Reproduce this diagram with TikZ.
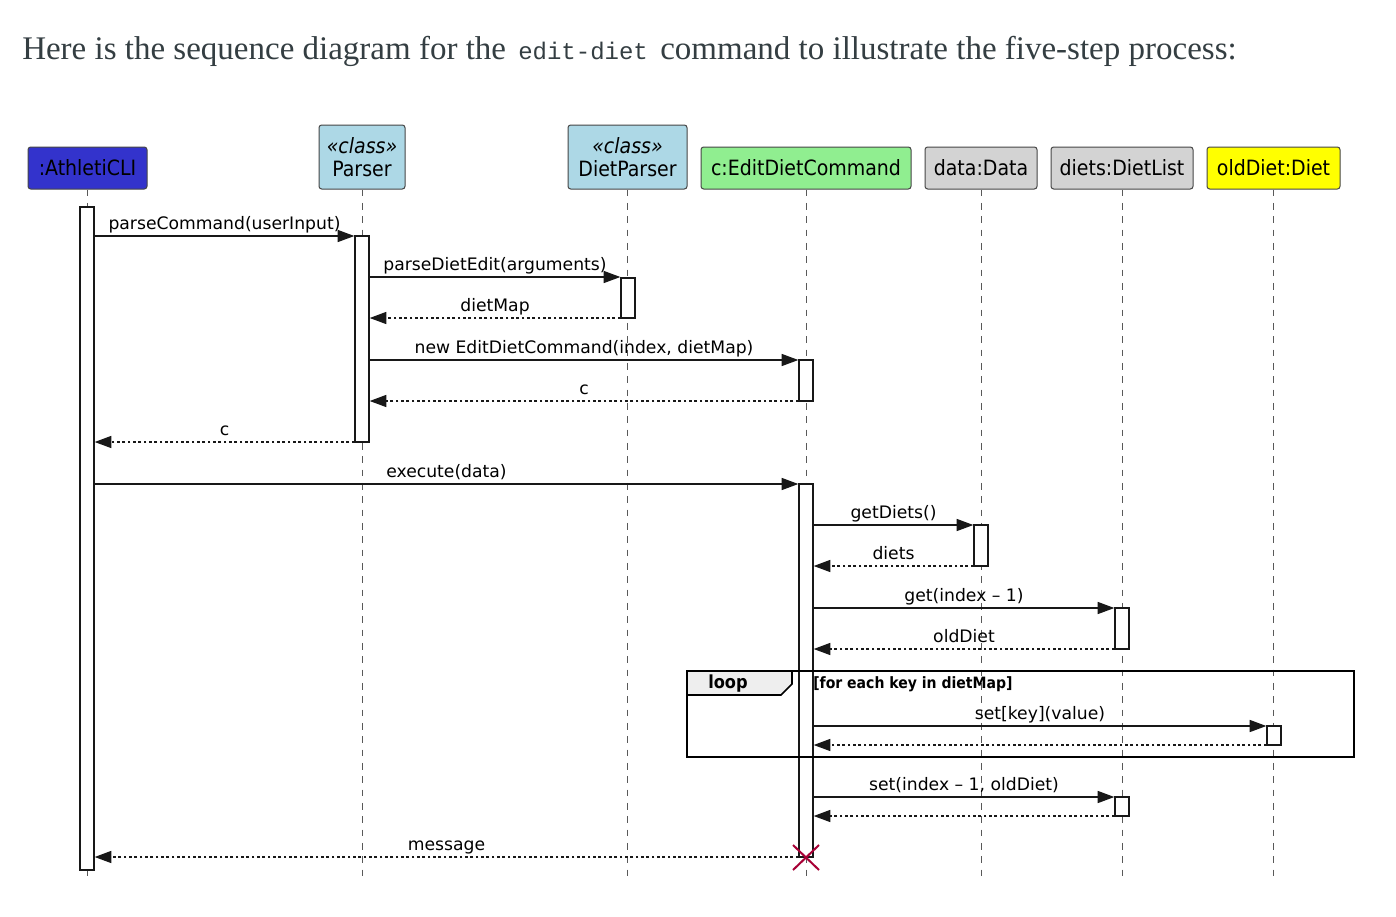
\documentclass[tikz,border=0pt]{standalone}
\usepackage{fontspec}
\newfontfamily\dfont{DejaVu Sans Condensed}
\newfontfamily\lfont{DejaVu Sans}
\newfontfamily\hfont{Liberation Serif}
\newfontfamily\mfont{Liberation Mono}
\usetikzlibrary{arrows.meta}
\definecolor{cBlue}{RGB}{51,51,204}
\definecolor{cLBlue}{RGB}{173,216,230}
\definecolor{cGreen}{RGB}{144,238,144}
\definecolor{cGray}{RGB}{211,211,211}
\definecolor{cYellow}{RGB}{255,255,0}
\definecolor{cCrimson}{RGB}{168,0,54}
\definecolor{cHdr}{RGB}{52,62,66}
\definecolor{cLine}{RGB}{24,24,24}
\definecolor{cTab}{RGB}{238,238,238}
\tikzset{
  part/.style={draw=cLine!80, line width=0.75pt, rounded corners=2pt, inner sep=0pt, align=center,
    font=\dfont\fontsize{15.8}{17.5}\selectfont, text=black},
  act/.style={draw=cLine, fill=white, line width=1pt, minimum width=10.5pt, inner sep=0pt},
  life/.style={draw=black!65, line width=0.75pt, dash pattern=on 5pt off 5pt},
  msg/.style={draw=cLine, line width=1.1pt, -{Triangle[length=12.5pt,width=9pt]}},
  ret/.style={msg, dash pattern=on 2pt off 2pt},
  lbl/.style={font=\lfont\fontsize{12.9}{15}\selectfont, anchor=base, inner sep=0pt, yshift=5pt, text=black},
  hdr/.style={anchor=base west, inner sep=0pt, text=cHdr}
}
\begin{document}
\begin{tikzpicture}[x=0.75pt,y=-0.75pt]
\fill[white] (0,0) rectangle (1396,917);
\useasboundingbox (0,0) rectangle (1396,917);

% header
\node[hdr, font=\hfont\fontsize{24.75}{28}\selectfont] (h1) at (22,60) {Here is the sequence diagram for the};
\node[hdr, font=\mfont\fontsize{18}{22}\selectfont] (h2) at (518,60) {edit-diet};
\node[hdr, font=\hfont\fontsize{24.75}{28}\selectfont] (h3) at (660,60) {command to illustrate the five-step process:};

% participants
\node[part, fill=cBlue, minimum width=89.25pt, minimum height=31.5pt] (pA) at (87.5,168) {:AthletiCLI};
\node[part, fill=cLBlue, minimum width=64.5pt, minimum height=48pt] (pP) at (362,157) {{\itshape «class»}\\Parser};
\node[part, fill=cLBlue, minimum width=89.25pt, minimum height=48pt] (pD) at (627.5,157) {{\itshape «class»}\\DietParser};
\node[part, fill=cGreen, minimum width=157.5pt, minimum height=31.5pt] (pE) at (806,168) {c:EditDietCommand};
\node[part, fill=cGray, minimum width=84pt, minimum height=31.5pt] (pDa) at (981,168) {data:Data};
\node[part, fill=cGray, minimum width=106.5pt, minimum height=31.5pt] (pL) at (1122,168) {diets:DietList};
\node[part, fill=cYellow, minimum width=99.75pt, minimum height=31.5pt] (pO) at (1273.5,168) {oldDiet:Diet};

% lifelines
\draw[life] (pA.south) -- (pA.south |- 0,877);
\draw[life] (pP.south) -- (pP.south |- 0,877);
\draw[life] (pD.south) -- (pD.south |- 0,877);
\draw[life] (pE.south) -- (pE.south |- 0,877);
\draw[life] (pDa.south) -- (pDa.south |- 0,877);
\draw[life] (pL.south) -- (pL.south |- 0,877);
\draw[life] (pO.south) -- (pO.south |- 0,877);

% activations
\node[act, minimum height=497.25pt] (aA) at (87,538.5) {};
\node[act, minimum height=154.5pt] (aP) at (362,339) {};
\node[act, minimum height=30pt] (aD) at (628,298) {};
\node[act, minimum height=30.75pt] (aE1) at (806,380.5) {};
\node[act, minimum height=279.75pt] (aE2) at (806,670.5) {};
\node[act, minimum height=30.75pt] (aDa) at (981,545.5) {};
\node[act, minimum height=30.75pt] (aL1) at (1122,628.5) {};
\node[act, minimum height=14.25pt] (aO) at (1274,735.5) {};
\node[act, minimum height=14.25pt] (aL2) at (1122,806.5) {};

% messages
\draw[msg] (aA.east |- 0,236) -- (aP.west |- 0,236) node[lbl, midway] {parseCommand(userInput)};
\draw[msg] (aP.east |- 0,277) -- (aD.west |- 0,277) node[lbl, midway] {parseDietEdit(arguments)};
\draw[ret] (aD.west |- 0,318) -- (aP.east |- 0,318) node[lbl, midway] {dietMap};
\draw[msg] (aP.east |- 0,360) -- (aE1.west |- 0,360) node[lbl, midway] {new EditDietCommand(index, dietMap)};
\draw[ret] (aE1.west |- 0,401) -- (aP.east |- 0,401) node[lbl, midway] {c};
\draw[ret] (aP.west |- 0,442) -- (aA.east |- 0,442) node[lbl, midway] {c};
\draw[msg] (aA.east |- 0,484) -- (aE2.west |- 0,484) node[lbl, midway] {execute(data)};
\draw[msg] (aE2.east |- 0,525) -- (aDa.west |- 0,525) node[lbl, midway] {getDiets()};
\draw[ret] (aDa.west |- 0,566) -- (aE2.east |- 0,566) node[lbl, midway] {diets};
\draw[msg] (aE2.east |- 0,608) -- (aL1.west |- 0,608) node[lbl, midway] {get(index – 1)};
\draw[ret] (aL1.west |- 0,649) -- (aE2.east |- 0,649) node[lbl, midway] {oldDiet};

% loop frame
\draw[line width=1.5pt, draw=black] (687,671) rectangle (1354,757);
\draw[line width=1.2pt, draw=black, fill=cTab] (687,671) -- (792,671) -- (792,684) -- (781,695) -- (687,695) -- cycle;
\node[font=\dfont\bfseries\fontsize{13.5}{16}\selectfont, inner sep=0pt] (loopL) at (728,684) {loop};
\node[font=\dfont\bfseries\fontsize{11.7}{14}\selectfont, anchor=west, inner sep=0pt] (guard) at (813,684) {[for each key in dietMap]};

\draw[msg] (aE2.east |- 0,726) -- (aO.west |- 0,726) node[lbl, midway] {set[key](value)};
\draw[ret] (aO.west |- 0,745) -- (aE2.east |- 0,745);
\draw[msg] (aE2.east |- 0,797) -- (aL2.west |- 0,797) node[lbl, midway] {set(index – 1, oldDiet)};
\draw[ret] (aL2.west |- 0,816) -- (aE2.east |- 0,816);
\draw[ret] (aE2.west |- 0,857) -- (aA.east |- 0,857) node[lbl, midway] {message};

% destroy mark
\draw[cCrimson, line width=1.5pt] (793,845) -- (819,870) (793,870) -- (819,845);
\end{tikzpicture}
\end{document}
